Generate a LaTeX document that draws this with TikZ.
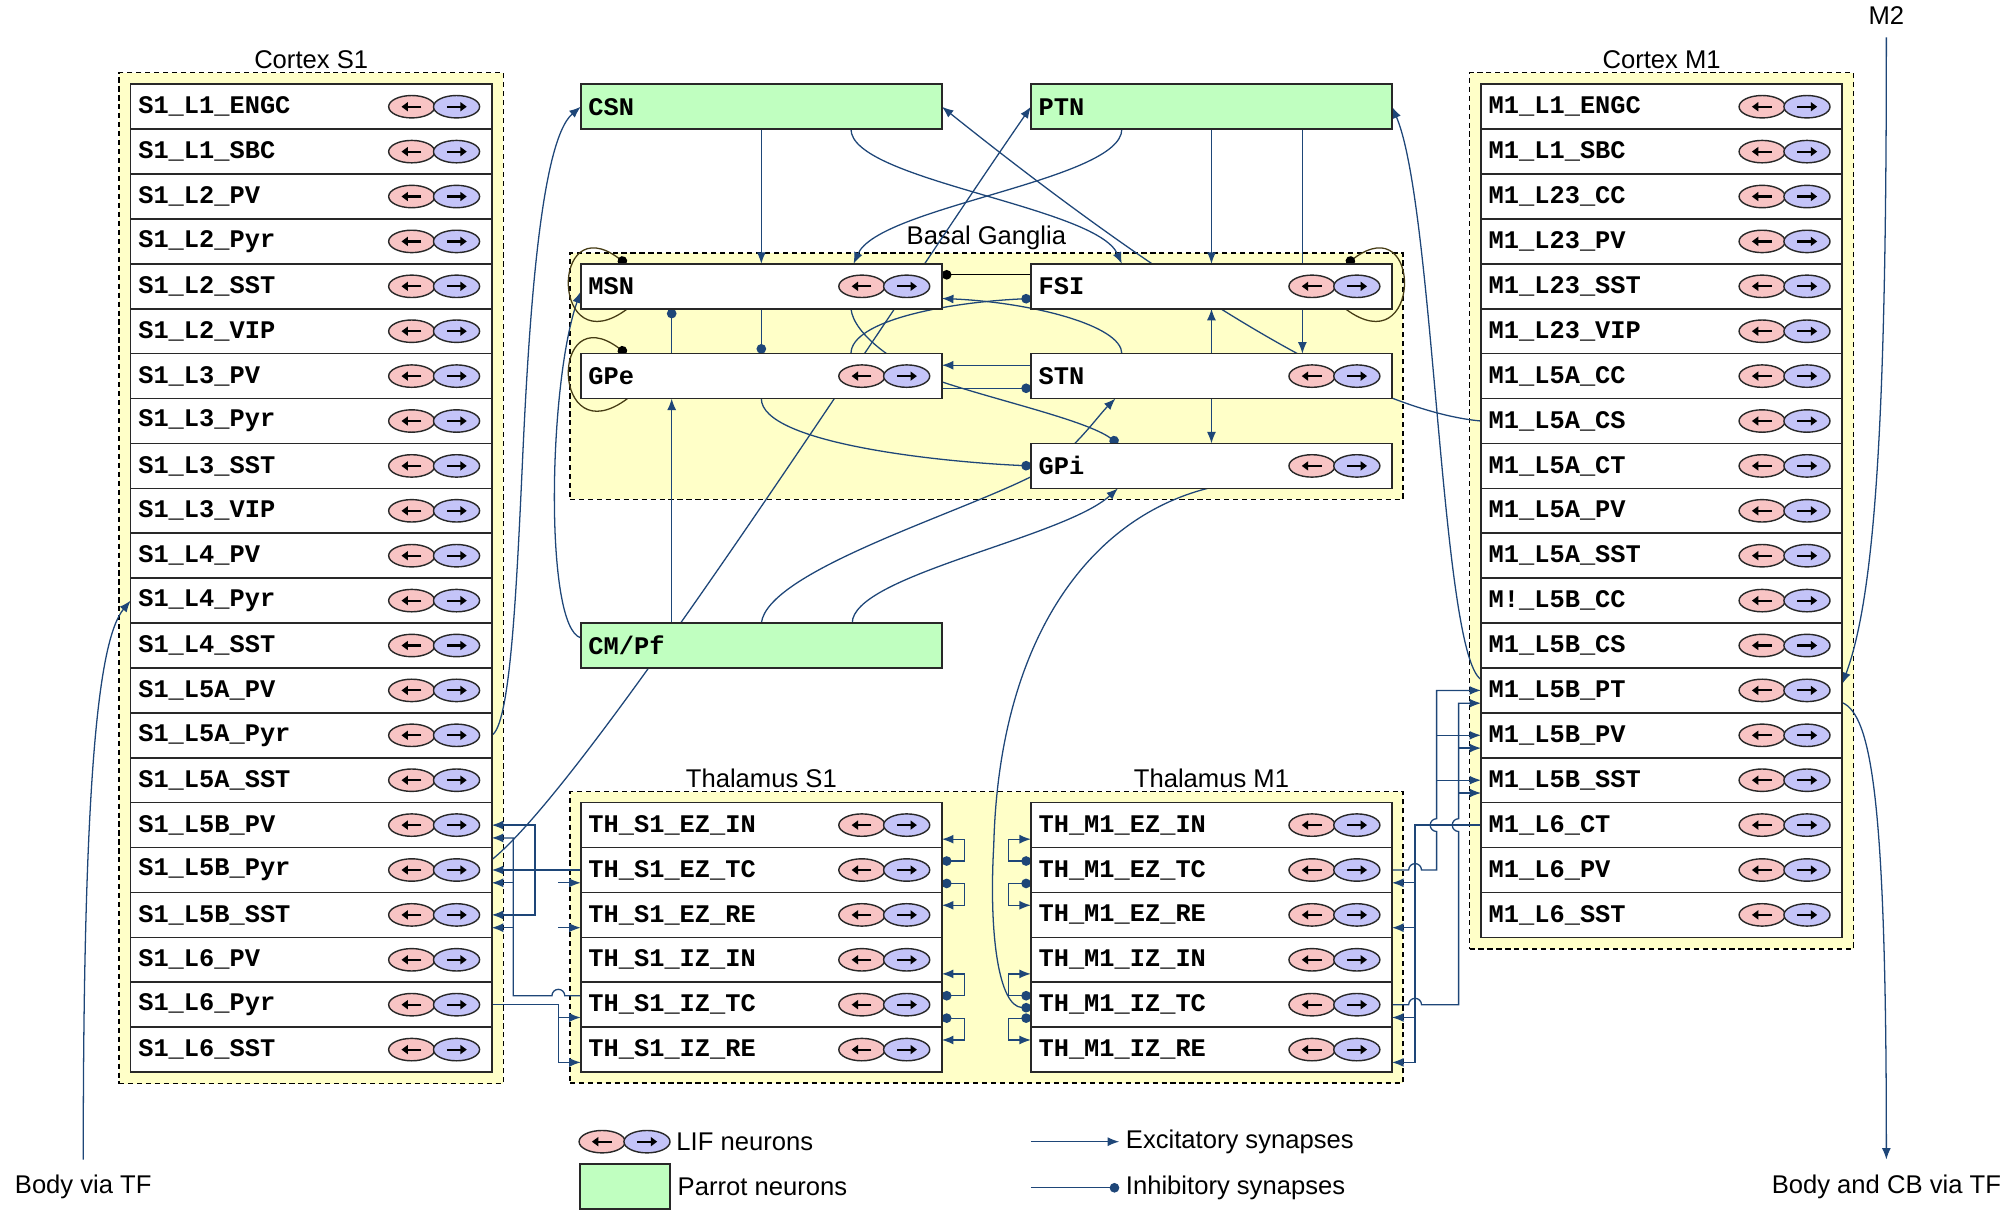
\documentclass[tikz,border=0pt]{standalone}
\usepackage{fontspec}
\setmainfont{Liberation Sans}
\setmonofont{Liberation Mono}
\usetikzlibrary{positioning,fit,shapes.geometric,arrows.meta}

\definecolor{wire}{RGB}{30,70,120}
\definecolor{regionfill}{RGB}{255,255,200}
\definecolor{parrotfill}{RGB}{192,255,192}
\definecolor{lifred}{RGB}{248,196,196}
\definecolor{lifblue}{RGB}{196,196,248}
\definecolor{loopline}{RGB}{70,60,20}
\definecolor{cellline}{RGB}{40,40,40}

\newcommand{\cellfont}{\ttfamily\bfseries\fontsize{19.8pt}{22pt}\selectfont}
\newcommand{\lblfont}{\fontsize{20pt}{24pt}\selectfont}

% the two LIF ellipses at the right end of a row
\newcommand{\lifpair}[1]{%
  \node[lifin] (#1_in) at ([xshift=-62.5pt]#1.east) {};
  \node[lifout] (#1_out) at ([xshift=-27.5pt]#1.east) {};
  \draw[lifarrow] ([xshift=7.5pt]#1_in.center) -- ([xshift=-8pt]#1_in.center);
  \draw[lifarrow] ([xshift=-7.5pt]#1_out.center) -- ([xshift=8pt]#1_out.center);
}

\pgfdeclarelayer{bg}
\pgfdeclarelayer{wires}
\pgfsetlayers{bg,wires,main}

\begin{document}
\begin{tikzpicture}[x=1pt, y=-1pt,
    rowcell/.style={rectangle, draw=cellline, line width=1.3pt, fill=white,
      minimum height=35.06pt, text width=270pt, inner xsep=6pt, inner ysep=0pt,
      outer sep=0pt, align=left, font=\cellfont},
    parrot/.style={rowcell, fill=parrotfill},
    region/.style={rectangle, draw=black, dashed, dash pattern=on 4pt off 3pt,
      line width=1.1pt, fill=regionfill, inner sep=9pt},
    grouplabel/.style={font=\lblfont, inner sep=2pt},
    lifin/.style={ellipse, draw=cellline, line width=1.1pt, fill=lifred,
      minimum width=36pt, minimum height=17.5pt, inner sep=0pt},
    lifout/.style={lifin, fill=lifblue},
    lifarrow/.style={line width=1.7pt, -{Triangle[length=5pt,width=7pt]}},
    exc/.style={draw=wire, line width=1pt, -{Latex[length=9pt,width=7pt]}},
    inh/.style={draw=wire, line width=1pt, -{Circle[length=7.5pt]}},
    inhblack/.style={inh, draw=black},
    dualsyn/.style={draw=wire, line width=1pt, {Circle[length=7.5pt]}-{Latex[length=9pt,width=7pt]}},
    selfloop/.style={draw=loopline, line width=1pt, -{Circle[length=7.5pt,color=black]}}]
  \useasboundingbox (0,0) rectangle (1568,951.1);

  % cortex S1
  \node[rowcell] (S1_L1_ENGC) at (243,83.33) {\detokenize{S1_L1_ENGC}};
  \lifpair{S1_L1_ENGC}
  \foreach \n [remember=\n as \p (initially S1_L1_ENGC)] in {S1_L1_SBC,S1_L2_PV,S1_L2_Pyr,
      S1_L2_SST,S1_L2_VIP,S1_L3_PV,S1_L3_Pyr,S1_L3_SST,S1_L3_VIP,S1_L4_PV,S1_L4_Pyr,
      S1_L4_SST,S1_L5A_PV,S1_L5A_Pyr,S1_L5A_SST,S1_L5B_PV,S1_L5B_Pyr,S1_L5B_SST,
      S1_L6_PV,S1_L6_Pyr,S1_L6_SST}{
    \node[rowcell, below=0pt of \p] (\n) {\detokenize\expandafter{\n}};
    \lifpair{\n}
  }

  % parrot neurons and basal ganglia
  \node[parrot, right=69.5pt of S1_L1_ENGC] (CSN) {CSN};
  \node[parrot, right=69.5pt of CSN] (PTN) {PTN};
  \node[rowcell, right=69.5pt of S1_L2_SST] (MSN) {MSN};
  \node[rowcell, right=69.5pt of MSN] (FSI) {FSI};
  \node[rowcell, right=69.5pt of S1_L3_PV] (GPe) {GPe};
  \node[rowcell, right=69.5pt of GPe] (STN) {STN};
  \node[rowcell, below=35.06pt of STN] (GPi) {GPi};
  \node[parrot, right=69.5pt of S1_L4_SST] (CMPf) {CM/Pf};
  \foreach \n in {MSN,FSI,GPe,STN,GPi}{\lifpair{\n}}

  % thalamus
  \node[rowcell, right=69.5pt of S1_L5B_PV] (TH_S1_EZ_IN) {\detokenize{TH_S1_EZ_IN}};
  \node[rowcell, right=69.5pt of TH_S1_EZ_IN] (TH_M1_EZ_IN) {\detokenize{TH_M1_EZ_IN}};
  \lifpair{TH_S1_EZ_IN}
  \lifpair{TH_M1_EZ_IN}
  \foreach \n [remember=\n as \p (initially TH_S1_EZ_IN)] in {TH_S1_EZ_TC,TH_S1_EZ_RE,
      TH_S1_IZ_IN,TH_S1_IZ_TC,TH_S1_IZ_RE}{
    \node[rowcell, below=0pt of \p] (\n) {\detokenize\expandafter{\n}};
    \lifpair{\n}
  }
  \foreach \n [remember=\n as \p (initially TH_M1_EZ_IN)] in {TH_M1_EZ_TC,TH_M1_EZ_RE,
      TH_M1_IZ_IN,TH_M1_IZ_TC,TH_M1_IZ_RE}{
    \node[rowcell, below=0pt of \p] (\n) {\detokenize\expandafter{\n}};
    \lifpair{\n}
  }

  % cortex M1
  \node[rowcell, right=69.5pt of PTN] (M1_L1_ENGC) {\detokenize{M1_L1_ENGC}};
  \lifpair{M1_L1_ENGC}
  \foreach \n [remember=\n as \p (initially M1_L1_ENGC)] in {M1_L1_SBC,M1_L23_CC,M1_L23_PV,
      M1_L23_SST,M1_L23_VIP,M1_L5A_CC,M1_L5A_CS,M1_L5A_CT,M1_L5A_PV,M1_L5A_SST}{
    \node[rowcell, below=0pt of \p] (\n) {\detokenize\expandafter{\n}};
    \lifpair{\n}
  }
  \node[rowcell, below=0pt of M1_L5A_SST] (M1_L5B_CC) {\detokenize{M!_L5B_CC}};
  \lifpair{M1_L5B_CC}
  \foreach \n [remember=\n as \p (initially M1_L5B_CC)] in {M1_L5B_CS,M1_L5B_PT,M1_L5B_PV,
      M1_L5B_SST,M1_L6_CT,M1_L6_PV,M1_L6_SST}{
    \node[rowcell, below=0pt of \p] (\n) {\detokenize\expandafter{\n}};
    \lifpair{\n}
  }

  % groups
  \begin{pgfonlayer}{bg}
    \node[region, fit=(S1_L1_ENGC)(S1_L6_SST), label={[grouplabel]above:Cortex S1}] (ctxS1) {};
    \node[region, fit=(M1_L1_ENGC)(M1_L6_SST), label={[grouplabel]above:Cortex M1}] (ctxM1) {};
    \node[region, fit=(MSN)(FSI)(GPi), inner sep=8.5pt, label={[grouplabel]above:Basal Ganglia}] (basal) {};
    \node[region, fit=(TH_S1_EZ_IN)(TH_M1_IZ_RE), inner sep=8.5pt] (thal) {};
  \end{pgfonlayer}
  \node[grouplabel, anchor=south] at (TH_S1_EZ_IN.north |- thal.north) {Thalamus S1};
  \node[grouplabel, anchor=south] at (TH_M1_EZ_IN.north |- thal.north) {Thalamus M1};

  % outside inputs and outputs
  \node[grouplabel] (M2) at (1473,12) {M2};
  \node[grouplabel] (bodyTF) at (65,927) {Body via TF};
  \node[grouplabel] (bodyCB) at (1473,927) {Body and CB via TF};

  % legend
  \node[inner sep=0pt, minimum size=0pt] (legLIF) at (532.5,891.5) {};
  \lifpair{legLIF}
  \node[grouplabel, anchor=west] (legLIFtxt) at (526,891.5) {LIF neurons};
  \node[parrot, text width=58pt] (legParrot) at (488,926.6) {};
  \node[grouplabel, anchor=west] (legParrotTxt) at ([xshift=4pt]legParrot.east) {Parrot neurons};
  \coordinate (legExc) at (805,891.5);
  \node[grouplabel, anchor=west] (legExcTxt) at (877,891.5) {Excitatory synapses};
  \coordinate (legInh) at (805,927.5);
  \node[grouplabel, anchor=west] (legInhTxt) at (877,927.5) {Inhibitory synapses};

  \begin{pgfonlayer}{wires}
    % cortex to parrot neurons
    \draw[exc] (S1_L5A_Pyr.east) .. controls (398,566) and (403,470) .. (408,360)
      .. controls (413,250) and (422,110) .. (CSN.west);
    \draw[exc] ([yshift=8pt]S1_L5B_Pyr.east) .. controls (460,610) and (690,250) .. (PTN.west);
    \draw[exc] (M1_L5A_CS.west) .. controls (1060,320) and (900,215) .. (CSN.east);
    \draw[exc] ([yshift=8.5pt]M1_L5B_PT.west) .. controls (1125,510) and (1120,160) .. (PTN.east);

    % parrot neurons to basal ganglia
    \draw[exc] (CSN.south) -- (MSN.north);
    \draw[exc] ([xshift=70pt]CSN.south) .. controls +(0,40) and +(-20,-45) .. ([xshift=-70pt]FSI.north);
    \draw[exc] ([xshift=-70pt]PTN.south) .. controls +(0,40) and +(20,-45) .. ([xshift=72pt]MSN.north);
    \draw[exc] (PTN.south) -- (FSI.north);
    \draw[exc] ([xshift=71pt]PTN.south) -- ([xshift=71pt]STN.north);
    \draw[exc] ([yshift=6pt]CMPf.west) .. controls (425,490) and (428,300) .. ([yshift=-4pt]MSN.west);
    \draw[exc] ([xshift=-70pt]CMPf.north) -- ([xshift=-70pt]GPe.south);
    \draw[exc] (CMPf.north) .. controls +(5,-40) and +(-60,30) .. ([yshift=-8.5pt]GPi.west)
      .. controls +(30,-15) and +(-15,15) .. ([xshift=-75pt]STN.south);
    \draw[exc] ([xshift=71pt]CMPf.north) .. controls +(0,-37) and +(-43,39) .. ([xshift=-73pt]GPi.south);

    % inside the basal ganglia
    \draw[inh] (MSN.south) -- (GPe.north);
    \draw[inh] ([xshift=-70pt]GPe.north) -- ([xshift=-70pt]MSN.south);
    \draw[inhblack] ([yshift=9pt]FSI.west) -- ([yshift=9pt]MSN.east);
    \draw[exc] ([yshift=8.5pt]STN.west) -- ([yshift=8.5pt]GPe.east);
    \draw[inh] ([yshift=-9.5pt]GPe.east) -- ([yshift=-9.5pt]STN.west);
    \draw[exc] (STN.north) -- (FSI.south);
    \draw[exc] (STN.south) -- (GPi.north);
    \draw[inh] ([xshift=70pt]GPe.north) .. controls +(0,-26) and +(-65,3) .. ([yshift=-9.5pt]FSI.west);
    \draw[exc] ([xshift=-70pt]STN.north) .. controls +(0,-22) and +(70,3) .. ([yshift=-9.5pt]MSN.east);
    \draw[inh] ([xshift=70pt]MSN.south) .. controls +(2,20) and +(-35,-12) .. ([yshift=-4.5pt]GPe.east)
      .. controls +(45,15) and +(-25,-18) .. ([xshift=-73pt]GPi.north);
    \draw[inh] (GPe.south) .. controls +(0,35) and +(-70,-3) .. (GPi.west);
    \draw[selfloop] ([xshift=36.5pt]MSN.south west) .. controls +(-60,45) and +(-60,-45) .. ([xshift=35.5pt]MSN.north west);
    \draw[selfloop] ([xshift=36.5pt]GPe.south west) .. controls +(-60,45) and +(-60,-45) .. ([xshift=35.5pt]GPe.north west);
    \draw[selfloop] ([xshift=-36.5pt]FSI.south east) .. controls +(60,45) and +(60,-45) .. ([xshift=-35.5pt]FSI.north east);

    % basal ganglia to thalamus
    \draw[inh] ([xshift=-3pt]GPi.south) .. controls (850,405) and (780,500) .. (776,660)
      .. controls (772,730) and (780,786) .. ([yshift=-2.5pt]TH_M1_IZ_TC.west);

    % inside the thalamus
    \foreach \z in {EZ,IZ}{
      \draw[dualsyn] ([yshift=7pt]TH_S1_\z_TC.east) -- ++(17.5pt,0) |- ([yshift=-11pt]TH_S1_\z_IN.east);
      \draw[dualsyn] ([yshift=-10.5pt]TH_S1_\z_TC.east) -- ++(17.5pt,0) |- ([yshift=7.5pt]TH_S1_\z_RE.east);
      \draw[dualsyn] ([yshift=7pt]TH_M1_\z_TC.west) -- ++(-17.5pt,0) |- ([yshift=-11pt]TH_M1_\z_IN.west);
      \draw[dualsyn] ([yshift=-10.5pt]TH_M1_\z_TC.west) -- ++(-17.5pt,0) |- ([yshift=7.5pt]TH_M1_\z_RE.west);
    }

    % thalamus and cortex S1
    \draw[exc] (TH_S1_EZ_TC.west) -- (S1_L5B_Pyr.east);
    \draw[exc] ([xshift=33.8pt]S1_L5B_Pyr.east) |- (S1_L5B_PV.east);
    \draw[exc] ([xshift=33.8pt]S1_L5B_Pyr.east) |- (S1_L5B_SST.east);
    \draw[exc] ([yshift=7pt]TH_S1_IZ_TC.west) -- ++(-12.5pt,0) arc[start angle=0,end angle=180,radius=5pt]
      -| ([xshift=16.8pt,yshift=-10pt]S1_L5B_PV.east) -- ([yshift=-10pt]S1_L5B_PV.east);
    \foreach \r in {S1_L5B_Pyr,S1_L5B_SST}
      \draw[exc] ([xshift=16.8pt,yshift=-10pt]\r.east) -- ([yshift=-10pt]\r.east);
    \draw[exc] (S1_L6_Pyr.east) -| ([xshift=-17.5pt,yshift=-10pt]TH_S1_IZ_RE.west) -- ([yshift=-10pt]TH_S1_IZ_RE.west);
    \foreach \r in {EZ_TC,EZ_RE,IZ_TC}
      \draw[exc] ([xshift=-17.5pt,yshift=-10pt]TH_S1_\r.west) -- ([yshift=-10pt]TH_S1_\r.west);

    % thalamus and cortex M1
    \draw[exc] (TH_M1_EZ_TC.east) -- ++(13pt,0) arc[start angle=180,end angle=0,radius=5pt]
      -| ([xshift=-34.7pt,yshift=-5pt]M1_L6_CT.west) arc[start angle=-90,end angle=-270,radius=5pt]
      |- (M1_L5B_PT.west);
    \foreach \r in {M1_L5B_PV,M1_L5B_SST}
      \draw[exc] ([xshift=-34.7pt]\r.west) -- (\r.west);
    \draw[exc] (TH_M1_IZ_TC.east) -- ++(13pt,0) arc[start angle=180,end angle=0,radius=5pt]
      -| ([xshift=-17.5pt,yshift=-5pt]M1_L6_CT.west) arc[start angle=-90,end angle=-270,radius=5pt]
      |- ([yshift=-10pt]M1_L5B_PT.west);
    \foreach \r in {M1_L5B_PV,M1_L5B_SST}
      \draw[exc] ([xshift=-17.5pt,yshift=-10pt]\r.west) -- ([yshift=-10pt]\r.west);
    \draw[exc] (M1_L6_CT.west) -| ([xshift=18pt,yshift=-10pt]TH_M1_IZ_RE.east) -- ([yshift=-10pt]TH_M1_IZ_RE.east);
    \foreach \r in {EZ_TC,EZ_RE,IZ_TC}
      \draw[exc] ([xshift=18pt,yshift=-10pt]TH_M1_\r.east) -- ([yshift=-10pt]TH_M1_\r.east);

    % outside inputs and outputs
    \draw[exc] ([yshift=10pt]bodyTF.north) .. controls +(0,-300) and +(-25,30) .. (S1_L4_Pyr.west);
    \draw[exc] ([yshift=-8pt]M2.south) .. controls +(0,270) and +(28,-75) .. ([yshift=5pt]M1_L5B_PT.east);
    \draw[exc] ([yshift=-9.5pt]M1_L5B_PT.east) .. controls +(23,10) and +(0,-280) .. ([yshift=10pt]bodyCB.north);

    % legend
    \draw[exc] (legExc) -- ([xshift=-3pt]legExcTxt.west);
    \draw[inh] (legInh) -- ([xshift=-3pt]legInhTxt.west);
  \end{pgfonlayer}
\end{tikzpicture}
\end{document}
